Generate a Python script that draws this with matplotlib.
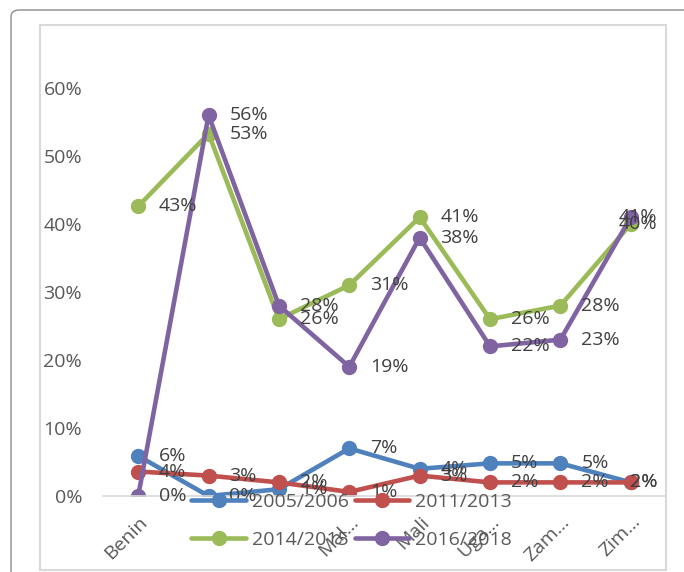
import matplotlib.pyplot as plt
from matplotlib.patches import FancyBboxPatch, Rectangle
import numpy as np

# 数据 (percent)
countries = ["Benin", "", "", "Mal…", "Mali", "Uga…", "Zam…", "Zim…"]
s_2005 = [5.9, 0.0, 1.0, 7.0, 4.0, 4.8, 4.8, 2.0]
s_2011 = [3.6, 3.0, 2.0, 0.6, 3.0, 2.0, 2.0, 2.0]
s_2014 = [42.6, 53.3, 26.0, 31.0, 41.0, 26.0, 28.0, 40.0]
s_2016 = [0.0, 56.0, 28.0, 19.0, 38.0, 22.0, 23.0, 41.0]

series = [("2005/2006", s_2005, "#4F81BD"),
          ("2011/2013", s_2011, "#C0504D"),
          ("2014/2015", s_2014, "#9BBB59"),
          ("2016/2018", s_2016, "#8064A2")]

plt.rcParams['font.family'] = ['Open Sans', 'DejaVu Sans']
fs = 14

fig = plt.figure(figsize=(6.84, 5.72), dpi=100)
ax = fig.add_axes([103/684, 76/572, 563/684, 408/572])

x = np.arange(len(countries))
lines = []
for name, vals, col in series:
    l, = ax.plot(x, vals, color=col, lw=3.3, marker='o', ms=10, label=name,
                 solid_capstyle='round')
    lines.append(l)

# data labels, kept inside the chart at the right edge like excel does
last = len(countries) - 1
for name, vals, col in series:
    for xi, v in zip(x, vals):
        if xi == last:
            off, ha = (19, 0), 'right'
        else:
            off, ha = (15, 0), 'left'
        ax.annotate(f"{v:.0f}%", (xi, v), xytext=off, textcoords='offset points',
                    ha=ha, va='center', fontsize=fs, color='#404040', zorder=5)

ax.set_xlim(-0.5, len(countries) - 0.5)
ax.set_ylim(0, 60)
ax.set_yticks(range(0, 61, 10))
ax.set_yticklabels([f"{t}%" for t in range(0, 61, 10)])
ax.set_xticks(x)
ax.set_xticklabels(countries, rotation=45, ha='right', rotation_mode='anchor')
ax.tick_params(axis='y', length=0, pad=15, labelsize=fs, labelcolor='#595959')
ax.tick_params(axis='x', length=0, pad=12, labelsize=fs, labelcolor='#595959')
for sp in ['top', 'right', 'left']:
    ax.spines[sp].set_visible(False)
ax.spines['bottom'].set_color('#d9d9d9')
ax.spines['bottom'].set_linewidth(1.2)
ax.patch.set_alpha(0)

# legend filled row by row (matplotlib fills columns, so reorder)
order = [0, 2, 1, 3]
fig.legend([lines[i] for i in order], [series[i][0] for i in order],
           loc='center', bbox_to_anchor=(351.5/684, 1 - 521/572), ncol=2, frameon=False,
           fontsize=fs, labelcolor='#595959', handlelength=2.8, handletextpad=0.3,
           columnspacing=0.3, labelspacing=1.0)

# chart frames
fig.patches.append(Rectangle((39.5/684, 1 - 570/572), (666 - 39.5)/684, (570 - 25)/572,
                             transform=fig.transFigure, fill=False, ec='#d9d9d9', lw=1.5))
fig.patches.append(FancyBboxPatch((11/684, -0.2), 1.2, 1.2 - 10/572,
                                  boxstyle='round,pad=0,rounding_size=0.012',
                                  transform=fig.transFigure, fill=False, ec='#8c8c8c', lw=1.0))

plt.savefig('out.png', dpi=100)
